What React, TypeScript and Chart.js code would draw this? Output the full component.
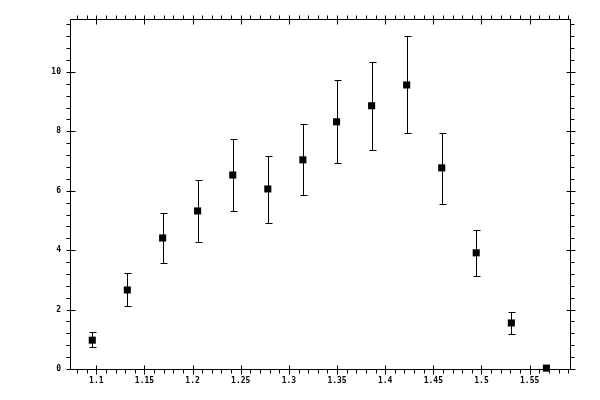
import React, { useEffect, useRef } from "react";
import { Chart, registerables } from "chart.js";

Chart.register(...registerables);

// Data
const xValues = [1.0958, 1.1322, 1.1689, 1.2052, 1.2417, 1.2781, 1.3145, 1.3495, 1.3859, 1.4223, 1.4587, 1.4945, 1.531, 1.5674];
const yValues = [0.97, 2.66, 4.41, 5.32, 6.53, 6.06, 7.04, 8.32, 8.86, 9.56, 6.77, 3.91, 1.55, 0.03];
const yUpper = [1.25, 3.24, 5.25, 6.36, 7.74, 7.18, 8.25, 9.73, 10.34, 11.21, 7.95, 4.68, 1.92, 0.03];
const yLower = [0.74, 2.12, 3.57, 4.28, 5.32, 4.92, 5.84, 6.94, 7.37, 7.95, 5.57, 3.13, 1.18, 0.03];

// Axis ticks
const xTickLabels = [1.1, 1.15, 1.2, 1.25, 1.3, 1.35, 1.4, 1.45, 1.5, 1.55];
const yTickLabels = [0, 2, 4, 6, 8, 10];
const X_MIN = 1.0727;
const X_MAX = 1.5919;
const Y_MIN = 0;
const Y_MAX = 11.78;
const X_MINOR_STEP = 0.01;
const Y_MINOR_STEP = 0.4;
const MINOR_PER_MAJOR = 5;

const TICK_FONT = { family: "'DejaVu Sans Mono', monospace", size: 8, weight: "bold" as const };

const framePlugin = {
  id: "frameTicksErrors",
  beforeDatasetsDraw(chart: any) {
    const ctx = chart.ctx;
    const xs = chart.scales.x;
    const ys = chart.scales.y;
    ctx.save();
    ctx.strokeStyle = "#000";
    ctx.lineWidth = 1;
    ctx.beginPath();
    for (let i = 0; i < xValues.length; i++) {
      if (yUpper[i] === yLower[i]) continue;
      const px = Math.round(xs.getPixelForValue(xValues[i])) + 0.5;
      const pTop = Math.round(ys.getPixelForValue(yUpper[i])) + 0.5;
      const pBot = Math.round(ys.getPixelForValue(yLower[i])) + 0.5;
      ctx.moveTo(px, pTop);
      ctx.lineTo(px, pBot);
      ctx.moveTo(px - 3, pTop);
      ctx.lineTo(px + 4, pTop);
      ctx.moveTo(px - 3, pBot);
      ctx.lineTo(px + 4, pBot);
    }
    ctx.stroke();
    ctx.restore();
  },
  afterDraw(chart: any) {
    const ctx = chart.ctx;
    const xs = chart.scales.x;
    const ys = chart.scales.y;
    const { left, right, top, bottom } = chart.chartArea;
    const L = Math.round(left) + 0.5;
    const R = Math.round(right) + 0.5;
    const T = Math.round(top) + 0.5;
    const B = Math.round(bottom) + 0.5;
    ctx.save();
    ctx.strokeStyle = "#000";
    ctx.lineWidth = 1;
    ctx.beginPath();
    ctx.rect(L, T, R - L, B - T);
    const iStart = Math.ceil(X_MIN / X_MINOR_STEP - 1e-6);
    const iEnd = Math.floor(X_MAX / X_MINOR_STEP + 1e-6);
    for (let i = iStart; i <= iEnd; i++) {
      const v = i * X_MINOR_STEP;
      const px = Math.round(xs.getPixelForValue(v)) + 0.5;
      const major = i % MINOR_PER_MAJOR === 0;
      if (major) {
        ctx.moveTo(px, B - 4);
        ctx.lineTo(px, B + 5);
        ctx.moveTo(px, T - 4);
        ctx.lineTo(px, T + 5);
      } else {
        ctx.moveTo(px, B);
        ctx.lineTo(px, B + 4);
        ctx.moveTo(px, T - 4);
        ctx.lineTo(px, T);
      }
    }
    const jStart = Math.ceil(Y_MIN / Y_MINOR_STEP - 1e-6);
    const jEnd = Math.floor(Y_MAX / Y_MINOR_STEP + 1e-6);
    for (let j = jStart; j <= jEnd; j++) {
      const v = j * Y_MINOR_STEP;
      const py = Math.round(ys.getPixelForValue(v)) + 0.5;
      const major = j % MINOR_PER_MAJOR === 0;
      if (major) {
        ctx.moveTo(L - 4, py);
        ctx.lineTo(L + 5, py);
        ctx.moveTo(R - 4, py);
        ctx.lineTo(R + 5, py);
      } else {
        ctx.moveTo(L - 4, py);
        ctx.lineTo(L, py);
        ctx.moveTo(R, py);
        ctx.lineTo(R + 4, py);
      }
    }
    ctx.stroke();
    ctx.restore();
  },
};

export default function App() {
  const canvasRef = useRef<HTMLCanvasElement | null>(null);

  useEffect(() => {
    document.body.style.margin = "0";
    const canvas = canvasRef.current;
    if (!canvas) return;
    const chart = new Chart(canvas, {
      type: "scatter",
      data: {
        datasets: [
          {
            data: xValues.map((x, i) => ({ x, y: yValues[i] })),
            pointStyle: "rect",
            pointRadius: 5,
            pointHoverRadius: 5,
            backgroundColor: "#000",
            borderColor: "#000",
            borderWidth: 0,
            clip: false,
          } as any,
        ],
      },
      options: {
        animation: false,
        responsive: false,
        devicePixelRatio: 1,
        events: [],
        layout: { padding: { top: 19, right: 30, left: 0, bottom: 0 } },
        plugins: {
          legend: { display: false },
          tooltip: { enabled: false },
          title: { display: false },
        },
        scales: {
          x: {
            type: "linear",
            min: X_MIN,
            max: X_MAX,
            grid: { display: false, drawTicks: false },
            border: { display: false },
            ticks: {
              color: "#000",
              font: TICK_FONT,
              padding: 7,
              maxRotation: 0,
              autoSkip: false,
              callback: (v: any) => String(v),
            },
            afterBuildTicks: (s: any) => {
              s.ticks = xTickLabels.map((value) => ({ value }));
            },
            afterFit: (s: any) => {
              s.height = 31;
            },
          },
          y: {
            type: "linear",
            min: Y_MIN,
            max: Y_MAX,
            grid: { display: false, drawTicks: false },
            border: { display: false },
            ticks: {
              color: "#000",
              font: TICK_FONT,
              padding: 9,
              autoSkip: false,
              callback: (v: any) => String(v),
            },
            afterBuildTicks: (s: any) => {
              s.ticks = yTickLabels.map((value) => ({ value }));
            },
            afterFit: (s: any) => {
              s.width = 70;
            },
          },
        },
      },
      plugins: [framePlugin],
    });
    return () => chart.destroy();
  }, []);

  return (
    <div style={{ width: 600, height: 400, background: "#fff" }}>
      <canvas ref={canvasRef} width={600} height={400} style={{ display: "block" }} />
    </div>
  );
}
